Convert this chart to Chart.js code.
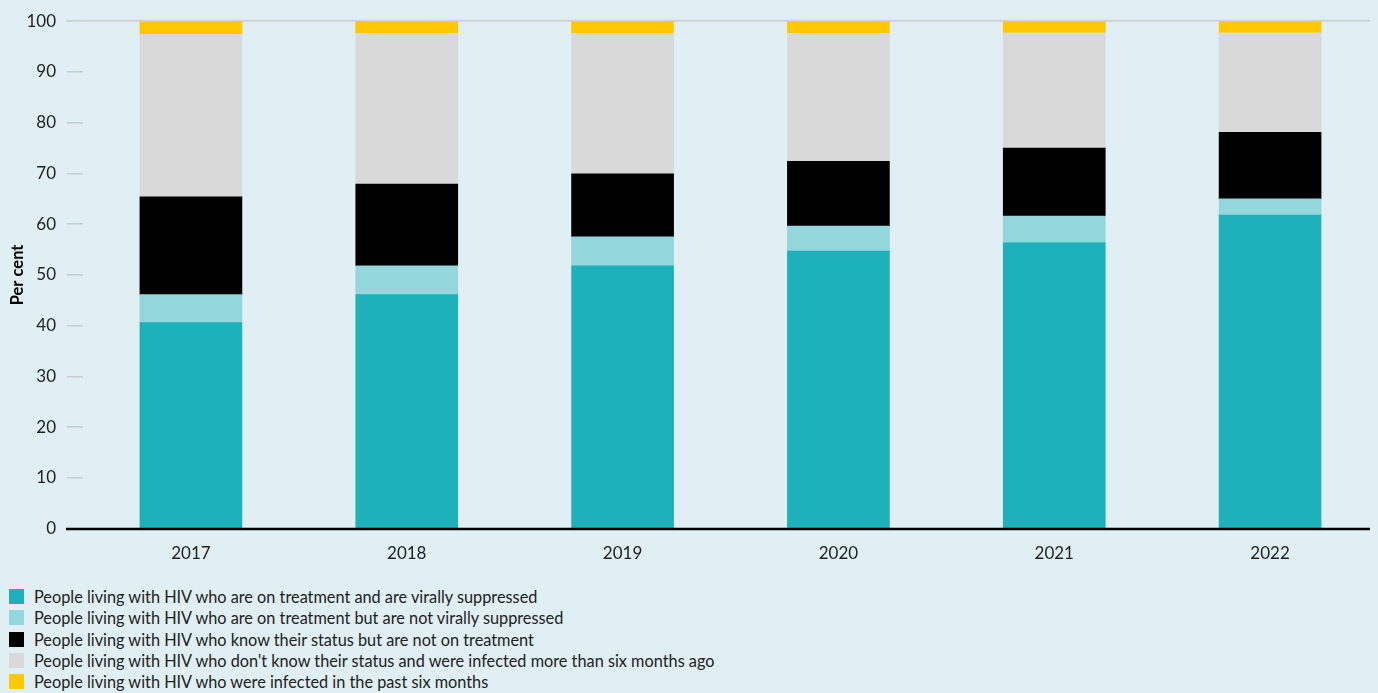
<!DOCTYPE html>
<html>
<head>
<meta charset="utf-8">
<script src="https://cdn.jsdelivr.net/npm/chart.js@4.4.1/dist/chart.umd.min.js"></script>
<style>
  html, body { margin: 0; padding: 0; background: #e0eff3; }
  #wrap { position: relative; width: 1378px; height: 693px; }
  #chartBox { position: absolute; left: 0; top: 0; width: 1378px; height: 571px; }
  #legend { position: absolute; left: 9px; top: 586px; font-family: Lato, "Noto Sans", sans-serif; font-size: 16.3px; color: #222; }
  #legend .row { display: flex; align-items: center; height: 21.3px; }
  #legend .box { width: 15px; height: 15px; margin-right: 10px; }
</style>
</head>
<body>
<div id="wrap">
  <div id="chartBox"><canvas id="myChart"></canvas></div>
  <div id="legend"></div>
</div>
<script>
const years = ["2017", "2018", "2019", "2020", "2021", "2022"];

const suppressed = [40.6, 46.1, 51.8, 54.7, 56.3, 61.8];
const notSuppressed = [5.5, 5.7, 5.7, 4.9, 5.3, 3.2];
const notOnTreatment = [19.3, 16.1, 12.4, 12.8, 13.4, 13.1];
const dontKnow = [32.0, 29.7, 27.7, 25.2, 22.7, 19.6];
const recentlyInfected = [2.6, 2.4, 2.4, 2.4, 2.3, 2.3];

const yTicks = [0, 10, 20, 30, 40, 50, 60, 70, 80, 90, 100];

const seriesLabels = [
  "People living with HIV who are on treatment and are virally suppressed",
  "People living with HIV who are on treatment but are not virally suppressed",
  "People living with HIV who know their status but are not on treatment",
  "People living with HIV who don't know their status and were infected more than six months ago",
  "People living with HIV who were infected in the past six months",
];
const seriesColors = ["#1cb1bb", "#93d7dc", "#000000", "#d9d9d9", "#ffc800"];
const seriesData = [suppressed, notSuppressed, notOnTreatment, dontKnow, recentlyInfected];

const fontFamily = "Lato, 'Noto Sans', sans-serif";

// axis lines drawn by hand so they run under the tick marks like the original
const axisLines = {
  id: "axisLines",
  beforeDatasetsDraw(chart) {
    const ctx = chart.ctx;
    const y = chart.scales.y;
    ctx.save();
    ctx.strokeStyle = "#cfd3d5";
    ctx.lineWidth = 2;
    ctx.beginPath();
    ctx.moveTo(66, y.getPixelForValue(100) - 0.5);
    ctx.lineTo(1370, y.getPixelForValue(100) - 0.5);
    ctx.stroke();
    ctx.restore();
  },
  afterDatasetsDraw(chart) {
    const ctx = chart.ctx;
    const y = chart.scales.y;
    ctx.save();
    ctx.strokeStyle = "#000";
    ctx.lineWidth = 2.5;
    ctx.beginPath();
    ctx.moveTo(66, y.getPixelForValue(0) + 0.5);
    ctx.lineTo(1370, y.getPixelForValue(0) + 0.5);
    ctx.stroke();
    ctx.restore();
  },
};

const chart = new Chart(document.getElementById("myChart"), {
  type: "bar",
  data: {
    labels: years,
    datasets: seriesLabels.map((label, i) => ({
      label: label,
      data: seriesData[i],
      backgroundColor: seriesColors[i],
      borderWidth: 0,
      barThickness: 102,
    })),
  },
  options: {
    responsive: true,
    maintainAspectRatio: false,
    animation: false,
    layout: { padding: { top: 14, right: 0, left: 0, bottom: 0 } },
    plugins: {
      legend: { display: false },
      tooltip: { enabled: false },
    },
    scales: {
      x: {
        stacked: true,
        grid: { display: false },
        border: { display: false },
        ticks: {
          color: "#222",
          font: { family: fontFamily, size: 17 },
          padding: 7,
        },
      },
      y: {
        stacked: true,
        min: 0,
        max: 100,
        afterBuildTicks(scale) {
          scale.ticks = yTicks.map((v) => ({ value: v }));
        },
        afterFit(scale) {
          scale.width = 83;
        },
        grid: {
          drawOnChartArea: false,
          drawTicks: true,
          tickLength: 16,
          color: "#c9cdcf",
          lineWidth: 1.5,
        },
        border: { display: false },
        ticks: {
          color: "#222",
          font: { family: fontFamily, size: 17 },
          padding: 11,
        },
        title: {
          display: true,
          text: "Per cent",
          color: "#000",
          font: { family: fontFamily, size: 16.5, weight: "bold" },
          padding: { top: 8, bottom: 0 },
        },
      },
    },
  },
  plugins: [axisLines],
});

// html legend, one entry per line
const legendEl = document.getElementById("legend");
chart.data.datasets.forEach((ds) => {
  const row = document.createElement("div");
  row.className = "row";
  const box = document.createElement("span");
  box.className = "box";
  box.style.background = ds.backgroundColor;
  const text = document.createElement("span");
  text.textContent = ds.label;
  row.appendChild(box);
  row.appendChild(text);
  legendEl.appendChild(row);
});
</script>
</body>
</html>
